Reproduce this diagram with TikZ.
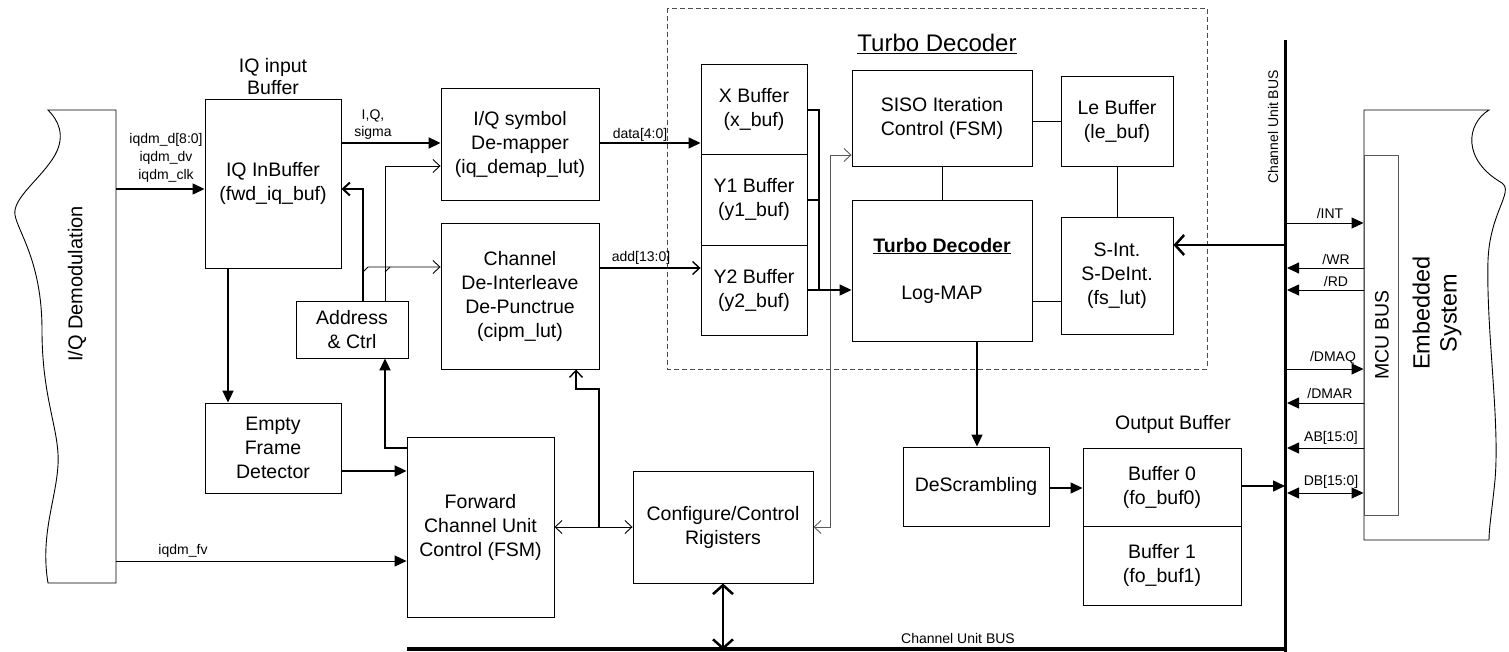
\documentclass[tikz,border=0pt]{standalone}
\usepackage{fontspec}
\setmainfont{Liberation Sans}
\usetikzlibrary{arrows.meta}
\newcommand{\mainfs}{\fontsize{19.5}{24}\selectfont}
\newcommand{\smallfs}{\fontsize{14}{18}\selectfont}
\begin{document}
\begin{tikzpicture}[x=1pt,y=-1pt,
  box/.style={draw=black, line width=0.9pt, rectangle, inner sep=0pt, align=center, font=\mainfs},
  lbl/.style={inner sep=0pt, align=center, font=\mainfs},
  slbl/.style={inner sep=0pt, align=center, font=\smallfs},
  fa/.style={-{Triangle[length=12pt,width=11pt]}},
  oa/.style={-{Straight Barb[length=7pt,width=13pt]}},
  boa/.style={{Straight Barb[length=7pt,width=13pt]}-{Straight Barb[length=7pt,width=13pt]}},
  thn/.style={line width=0.9pt},
  med/.style={line width=1.4pt},
  thk/.style={line width=2pt},
  grl/.style={line width=0.9pt, draw=black!65},
]
\useasboundingbox (0,0) rectangle (1509,652);

% reference coordinates
\foreach \n/\v in {110/110,143/143,155/155,166/166,189/189,200/200,223/223,245/245,267/267,268/268,272/272,268/268,290/290,369/369,389/389,403/403,448/448,471/471,486/486,488/488,527/527,561/561,650/650,259/259,282/282,290/290,393/393,438/438,482/482,493/493}{}
\coordinate (h143) at (0,143);
\coordinate (h155) at (0,155);
\coordinate (h166) at (0,166);
\coordinate (h189) at (0,189);
\coordinate (h245) at (0,245);
\coordinate (h267) at (0,267);
\coordinate (h268) at (0,268);
\coordinate (h110) at (0,110);
\coordinate (h200) at (0,200);
\coordinate (h448) at (0,448);
\coordinate (h471) at (0,471);
\coordinate (h486) at (0,486);
\coordinate (h488) at (0,488);
\coordinate (h561) at (0,561);
\coordinate (h650) at (0,650);
\coordinate (v228) at (228,0);
\coordinate (v363) at (363,0);
\coordinate (v385) at (385,0);
\coordinate (v576) at (576,0);
\coordinate (v977) at (977,0);

% I/Q demodulation shape
\draw[thn] (116,110) -- (48,110) .. controls (58,120) and (66,135) .. (55,155)
  .. controls (42,178) and (12,198) .. (15,215)
  .. controls (18,232) and (42,262) .. (42,330)
  .. controls (42,400) and (60,430) .. (58,465)
  .. controls (56,500) and (40,535) .. (48,583) -- (116,583) -- cycle;
\node[lbl, rotate=90, font=\fontsize{20}{24}\selectfont] (demodlbl) at (77,284) {I/Q Demodulation};
\coordinate (dm1) at (116,189);
\coordinate (dm2) at (116,561);

% Embedded system shape
\draw[thn] (1364,110) -- (1489,110) .. controls (1466,124) and (1462,160) .. (1502,183)
  .. controls (1514,192) and (1490,212) .. (1488,260)
  .. controls (1486,330) and (1500,420) .. (1495,480)
  .. controls (1492,510) and (1489,528) .. (1489,540) -- (1364,540) -- cycle;
\node[box, draw=black!65, minimum width=34pt, minimum height=360pt, fill=white] (mcu) at (1381,335) {};
\node[lbl, rotate=90] (mculbl) at (1382,335) {MCU BUS};
\node[lbl, rotate=90, font=\fontsize{23.5}{27}\selectfont] (emblbl) at (1437,313) {Embedded\\System};

% Boxes
\node[box, minimum width=136pt, minimum height=169pt] (iqbuf) at (273,183.5) {IQ InBuffer\\(fwd\_iq\_buf)};
\node[lbl, font=\fontsize{19.5}{22}\selectfont] (iqbuflbl) at (273,77) {IQ input\\Buffer};
\node[box, minimum width=158pt, minimum height=112pt] (iqdemap) at (520,144) {I/Q symbol\\De-mapper\\(iq\_demap\_lut)};
\node[box, minimum width=158pt, minimum height=146pt] (chan) at (520,296) {Channel\\De-Interleave\\De-Punctrue\\(cipm\_lut)};
\node[box, minimum width=112pt, minimum height=57pt] (addr) at (352,329.5) {Address\\\& Ctrl};
\node[box, minimum width=136pt, minimum height=90pt] (empty) at (273,448) {Empty\\Frame\\Detector};
\node[box, minimum width=147pt, minimum height=180pt] (fwd) at (480.5,527) {Forward\\Channel Unit\\Control (FSM)};
\node[box, minimum width=180pt, minimum height=112pt] (cfg) at (723,527) {Configure/Control\\Rigisters};

\draw[dashed, dash pattern=on 5pt off 3pt, draw=black!70, line width=0.8pt] (667,8) rectangle (1207,369);
\node[lbl, font=\fontsize{24}{28}\selectfont] (tdtitle) at (937,44) {\underline{Turbo Decoder}};

\node[box, minimum width=106pt, minimum height=90pt] (xbuf) at (754,109) {X Buffer\\(x\_buf)};
\node[box, minimum width=106pt, minimum height=91pt] (y1buf) at (754,199.5) {Y1 Buffer\\(y1\_buf)};
\node[box, minimum width=106pt, minimum height=90pt] (y2buf) at (754,290) {Y2 Buffer\\(y2\_buf)};
\node[box, minimum width=180pt, minimum height=96pt] (siso) at (942,118) {SISO Iteration\\Control (FSM)};
\node[box, minimum width=112pt, minimum height=90pt] (lebuf) at (1117,121) {Le Buffer\\(le\_buf)};
\node[box, minimum width=180pt, minimum height=141pt] (turbo) at (942,270.5) {\textbf{\underline{Turbo Decoder}}\\[23pt]Log-MAP};
\node[box, minimum width=112pt, minimum height=117pt] (sint) at (1117,275.5) {S-Int.\\S-DeInt.\\(fs\_lut)};
\node[box, minimum width=146pt, minimum height=79pt] (descr) at (976,486.5) {DeScrambling};
\node[box, minimum width=158pt, minimum height=78pt] (buf0) at (1162,487) {Buffer 0\\(fo\_buf0)};
\node[box, minimum width=158pt, minimum height=79pt] (buf1) at (1162,565.5) {Buffer 1\\(fo\_buf1)};
\node[lbl] (outlbl) at (1173,424) {Output Buffer};

% Buses
\coordinate (busL) at (407,649);
\coordinate (busR) at (1287,649);
\coordinate (vbusT) at (1285,40);
\coordinate (vbusB) at (1285,652);
\draw[line width=3.5pt] (busL) -- (busR);
\draw[line width=3pt] (vbusT) -- (vbusB);
\node[slbl] (busl1) at (958,638) {Channel Unit BUS};
\node[slbl, rotate=90] (busl2) at (1273,127) {Channel Unit BUS};

% Left connectors
\draw[med, fa] (dm1) -- (dm1 -| iqbuf.west);
\node[slbl] (iqdmlbl) at (166,158) {iqdm\_d[8:0]\\iqdm\_dv\\iqdm\_clk};
\draw[thn, fa] (dm2) -- (dm2 -| fwd.west);
\node[slbl] (fvlbl) at (183,551) {iqdm\_fv};
\draw[thk, fa] (iqbuf.east |- h143) -- (iqdemap.west |- h143);
\node[slbl, font=\fontsize{14}{17}\selectfont] (iqslbl) at (373,124.5) {I,Q,\\sigma};
\draw[thk, oa] (addr.north -| v363) -- (v363 |- h189) -- (iqbuf.east |- h189);
\draw[thn, oa] (addr.north -| v385) -- (v385 |- h166) -- (iqdemap.west |- h166);
\draw[thn, oa] (363,272) -- (368,267) -- (chan.west |- h267);
\draw[thn] (385,272) -- (390,267);
\draw[thk, fa] (fwd.west |- h448) -- (v385 |- h448) -- (addr.south -| v385);
\draw[thk, fa] (empty.east |- h471) -- (fwd.west |- h471);
\draw[thk, fa] (iqbuf.south -| v228) -- (empty.north -| v228);

% Middle connectors
\draw[med, fa] (iqdemap.east |- h143) -- (xbuf.west |- h143);
\node[slbl] (datalbl) at (640,135) {data[4:0]};
\draw[med, oa] (chan.east |- h268) -- (y2buf.west |- h268);
\node[slbl] (addlbl) at (641,258) {add[13:0]};
\draw[thn, boa] (fwd.east) -- (cfg.west);
\draw[med, oa] (599,527) -- (599,389) -- (576,389) -- (chan.south -| v576);
\draw[grl, boa] (cfg.east) -- (830,527) -- (830,155) -- (siso.west |- h155);
\draw[line width=2.5pt, {Straight Barb[length=9pt,width=20pt]}-{Straight Barb[length=9pt,width=20pt]}] (cfg.south) -- (cfg.south |- h650);

% Turbo decoder connectors
\draw[med] (xbuf.east |- h110) -- (819,110) -- (819,290);
\draw[med] (y1buf.east |- h200) -- (819,200);
\draw[med, fa] (y2buf.east) -- (turbo.west |- y2buf.east);
\draw[thn] (siso.east |- lebuf.west) -- (lebuf.west);
\draw[thn] (siso.south) -- (turbo.north);
\draw[thn] (lebuf.south) -- (sint.north);
\draw[thn] (turbo.east |- 0,301) -- (sint.west |- 0,301);
\draw[line width=2.5pt, -{Straight Barb[length=9pt,width=20pt]}] (vbusT |- h245) -- (sint.east |- h245);
\draw[med, fa] (turbo.south -| v977) -- (descr.north -| v977);
\draw[med, fa] (descr.east |- h488) -- (buf0.west |- h488);
\draw[med, fa] (buf0.east |- h486) -- (vbusT |- h486);

% MCU signals
\foreach \yy/\nm/\dir/\lx in {223/INT/r/1330, 268/WR/l/1336, 290/RD/l/1336, 369/DMAQ/r/1333, 403/DMAR/l/1330, 448/AB/l/1331}{
  \coordinate (s\nm) at (1287,\yy);
}
\draw[thn, fa] (sINT) -- (sINT -| mcu.west);
\draw[thn, fa] (sWR -| mcu.west) -- (sWR);
\draw[thn, fa] (sRD -| mcu.west) -- (sRD);
\draw[thn, fa] (sDMAQ) -- (sDMAQ -| mcu.west);
\draw[thn, fa] (sDMAR -| mcu.west) -- (sDMAR);
\draw[thn, fa] (sAB -| mcu.west) -- (sAB);
\coordinate (sDB) at (1287,493);
\draw[thn, {Triangle[length=12pt,width=11pt]}-{Triangle[length=12pt,width=11pt]}] (sDB) -- (sDB -| mcu.west);
\node[slbl] (intl) at (1330,213) {/INT};
\node[slbl] (wrl) at (1336,259) {/WR};
\node[slbl] (rdl) at (1336,281) {/RD};
\node[slbl] (dmaql) at (1333,358) {/DMAQ};
\node[slbl] (dmarl) at (1330,393) {/DMAR};
\node[slbl] (abl) at (1331,438) {AB[15:0]};
\node[slbl] (dbl) at (1331,482) {DB[15:0]};
\end{tikzpicture}
\end{document}
